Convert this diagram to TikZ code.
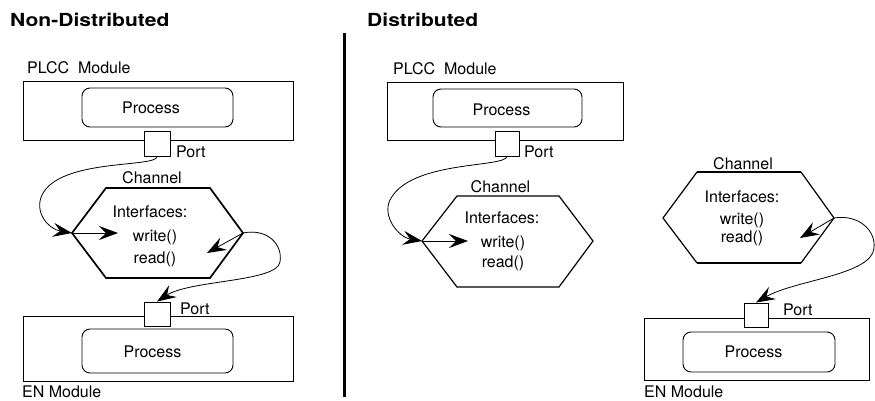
\documentclass[tikz,border=0pt]{standalone}
\usepackage{fontspec}
\setmainfont{TeX Gyre Heros}
\newfontfamily\titlefont[FakeStretch=1.17]{TeX Gyre Heros}
\usetikzlibrary{arrows.meta}
\begin{document}
\begin{tikzpicture}[x=1pt,y=-1pt,
  txt/.style={inner sep=0pt, font=\fontsize{16}{19}\selectfont},
  heading/.style={inner sep=0pt, anchor=base west, font=\titlefont\bfseries\fontsize{18}{22}\selectfont},
  module/.style={draw, line width=0.9pt, inner sep=0pt},
  procbox/.style={draw, rounded corners=8pt, line width=0.9pt, inner sep=0pt},
  portbox/.style={draw, fill=white, line width=0.9pt, inner sep=0pt},
  chan/.style={line width=1.7pt, line join=miter},
  link/.style={line width=0.8pt, -{Stealth[length=19pt,width=14pt,inset=7pt]}},
]
\useasboundingbox (0,0) rectangle (875,400);

% ---------- headings and divider ----------
\node[heading] (hNon) at (10,26) {Non-Distributed};
\node[heading] (hDis) at (367,26) {Distributed};
\coordinate (divTop) at (344,33);
\coordinate (divBot) at (344,397);
\draw[line width=3pt] (divTop) -- (divBot);

% ================= non-distributed =================
\node[module, minimum width=270pt, minimum height=59pt] (plccA) at (158,110.5) {};
\node[procbox, minimum width=151pt, minimum height=39pt] (procA) at (157.5,107.5) {};
\node[txt, anchor=base] (procAt) at (151,113) {Process};
\node[txt, anchor=base west] (plccAt) at (27,73) {PLCC\ \ Module};
\node[portbox, minimum width=26pt, minimum height=25pt] (portA) at (157,143.5) {};
\node[txt, anchor=base west] (portAt) at (176,157) {Port};

\node[module, minimum width=270pt, minimum height=65pt] (enA) at (158,348.5) {};
\node[procbox, minimum width=151pt, minimum height=44pt] (procA2) at (157.5,351) {};
\node[txt, anchor=base] (procA2t) at (152.5,357) {Process};
\node[portbox, minimum width=26pt, minimum height=24pt] (portA2) at (157,314) {};
\node[txt, anchor=base west] (portA2t) at (180,314) {Port};
\node[txt, anchor=base west] (enAt) at (22,397) {EN Module};

% channel
\coordinate (hA-l)  at (72,233);
\coordinate (hA-tl) at (106,188);
\coordinate (hA-tr) at (210,188);
\coordinate (hA-r)  at (243,233);
\coordinate (hA-br) at (210,278);
\coordinate (hA-bl) at (106,278);
\draw[chan] (hA-l) -- (hA-tl) -- (hA-tr) -- (hA-r) -- (hA-br) -- (hA-bl) -- cycle;
\node[txt, anchor=base] (chanA) at (152,183) {Channel};
\node[txt] (ifA) at (150,212) {Interfaces:};
\node[txt] (wrA) at (155,237) {write()};
\node[txt] (rdA) at (155,259) {read()};

\coordinate (inA) at (118,233);
\coordinate (inA2) at (207,253);
\draw[link] (hA-l) -- (inA);
\draw[link] (hA-r) -- (inA2);
\draw[link] (portA.south) .. controls (157,168) and (60,158) .. (42,195)
                           .. controls (34,212) and (48,229) .. (hA-l);
\draw[link] (hA-r) .. controls (268,228) and (283,245) .. (280,262)
                   .. controls (277,282) and (190,280) .. (portA2.north);

% ================= distributed =================
\node[module, minimum width=236pt, minimum height=58pt] (plccB) at (505,111) {};
\node[procbox, minimum width=149pt, minimum height=38pt] (procB) at (507.5,108) {};
\node[txt, anchor=base] (procBt) at (501.5,115) {Process};
\node[txt, anchor=base west] (plccBt) at (393,74) {PLCC\ \ Module};
\node[portbox, minimum width=24pt, minimum height=25pt] (portB) at (507,143.5) {};
\node[txt, anchor=base west] (portBt) at (524,157) {Port};

\coordinate (hB-l)  at (422,241);
\coordinate (hB-tl) at (457,196);
\coordinate (hB-tr) at (559,196);
\coordinate (hB-r)  at (593,241);
\coordinate (hB-br) at (559,287);
\coordinate (hB-bl) at (457,287);
\draw[chan, line width=1.2pt] (hB-l) -- (hB-tl) -- (hB-tr) -- (hB-r) -- (hB-br) -- (hB-bl) -- cycle;
\node[txt, anchor=base] (chanB) at (500.5,192) {Channel};
\node[txt] (ifB) at (502,218) {Interfaces:};
\node[txt] (wrB) at (503,243) {write()};
\node[txt] (rdB) at (503,263) {read()};

\coordinate (inB) at (468,241);
\draw[link] (hB-l) -- (inB);
\draw[link] (portB.south) .. controls (505,168) and (410,160) .. (390,200)
                           .. controls (382,216) and (398,237) .. (hB-l);

% remote channel and EN module
\coordinate (hC-l)  at (663,218);
\coordinate (hC-tl) at (697,172);
\coordinate (hC-tr) at (801,172);
\coordinate (hC-r)  at (834,218);
\coordinate (hC-br) at (801,263);
\coordinate (hC-bl) at (697,263);
\draw[line width=1.2pt] (hC-tr) -- (hC-r) -- (hC-br);
\draw[line width=1.2pt] (hC-bl) -- (hC-l) -- (hC-tl);
\draw[line width=2pt] (hC-tl) -- (hC-tr);
\draw[line width=2pt] (hC-bl) -- (hC-br);
\node[txt, anchor=base] (chanC) at (743,169) {Channel};
\node[txt] (ifC) at (742,197) {Interfaces:};
\node[txt] (wrC) at (742,220) {write()};
\node[txt] (rdC) at (742,238) {read()};

\node[module, minimum width=225pt, minimum height=62pt] (enC) at (756.5,349) {};
\node[procbox, minimum width=152pt, minimum height=40pt] (procC) at (759,352) {};
\node[txt, anchor=base] (procCt) at (753.5,357) {Process};
\node[portbox, minimum width=24pt, minimum height=24pt] (portC) at (756,315) {};
\node[txt, anchor=base west] (portCt) at (783,315) {Port};
\node[txt, anchor=base west] (enCt) at (644,397) {EN Module};

\coordinate (inC) at (800,238);
\draw[link] (hC-r) -- (inC);
\draw[link] (hC-r) .. controls (858,214) and (876,230) .. (874,248)
                   .. controls (872,275) and (795,280) .. (portC.north);
\end{tikzpicture}
\end{document}
